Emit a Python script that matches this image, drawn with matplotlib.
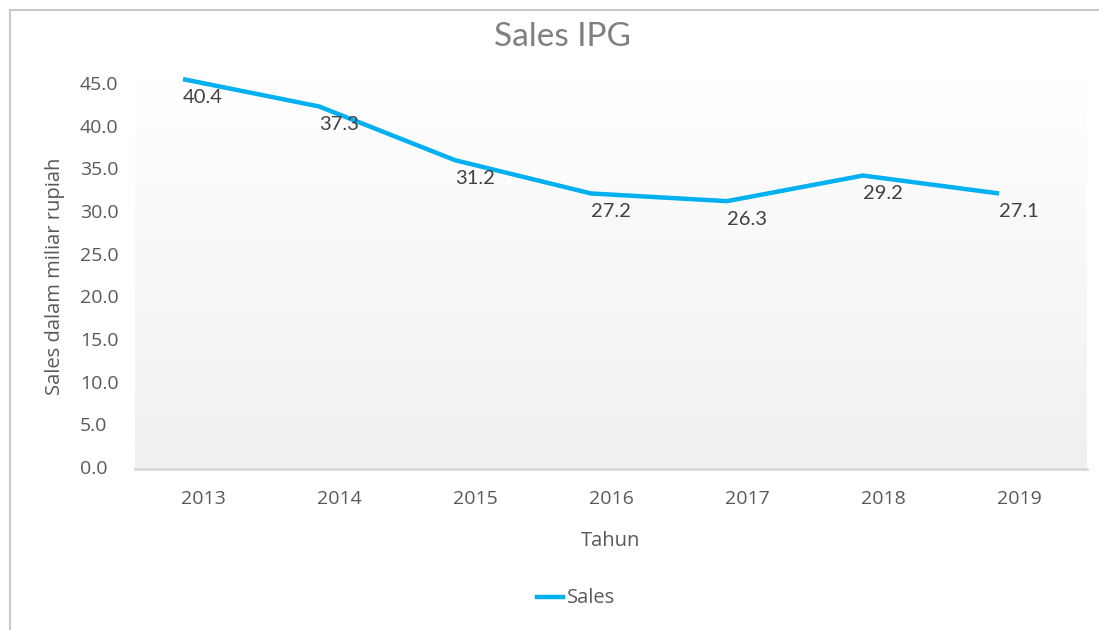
import numpy as np
import matplotlib
matplotlib.use("Agg")
import matplotlib.pyplot as plt
from matplotlib.lines import Line2D
from matplotlib.patches import Rectangle
from matplotlib.transforms import blended_transform_factory

plt.rcParams['font.family'] = ['Open Sans', 'DejaVu Sans']

years = ['2013', '2014', '2015', '2016', '2017', '2018', '2019']
line_values = [45.7, 42.5, 36.2, 32.3, 31.4, 34.4, 32.3]
data_labels = ['40.4', '37.3', '31.2', '27.2', '26.3', '29.2', '27.1']
y_ticks = [0, 5, 10, 15, 20, 25, 30, 35, 40, 45]

W, H = 1099, 630
fig = plt.figure(figsize=(W / 100, H / 100), dpi=100)
fig.patch.set_facecolor('white')

fig.add_artist(Rectangle((10 / W, -0.1), 1.2, (H - 10) / H + 0.1, transform=fig.transFigure,
                         fill=False, edgecolor='#c8c8c8', linewidth=1.5))

left, right, top, bottom = 135, 1087, 80, 469
ax = fig.add_axes([left / W, 1 - bottom / H, (right - left) / W, (bottom - top) / H])

x = np.arange(len(years))
ax.set_xlim(-0.5, len(years) - 0.5)
ax.set_ylim(0, 45.6)

grad = np.linspace(1.0, 0.0, 256).reshape(-1, 1)
c_top = np.array([1.0, 1.0, 1.0])
c_bot = np.array([0xf0, 0xf0, 0xf0]) / 255
img = (c_bot + (c_top - c_bot) * grad[..., None]).reshape(256, 1, 3)
ax.imshow(img, extent=[0, 1, 0, 1], transform=ax.transAxes, aspect='auto', zorder=0)

for s in ['top', 'right', 'left']:
    ax.spines[s].set_visible(False)
ax.spines['bottom'].set_color('#d9d9d9')
ax.spines['bottom'].set_linewidth(2)

x_shift = -0.147
ax.plot(x + x_shift, line_values, color='#00B0F0', linewidth=3.2, solid_joinstyle='round',
        solid_capstyle='butt', clip_on=False, zorder=3)

for xi, yv, lab in zip(x, line_values, data_labels):
    ax.annotate(lab, (xi, yv), xytext=(0, -13), textcoords='offset points',
                ha='center', va='center', fontsize=14.5, color='#404040', zorder=4,
                family=['Lato', 'DejaVu Sans'], annotation_clip=False)

ax.set_xticks(x)
ax.set_xticklabels(years)
ax.set_yticks(y_ticks)
ax.set_yticklabels([])
ax.tick_params(axis='both', length=0, labelsize=14, labelcolor='#595959')
ax.tick_params(axis='x', pad=15)

ytrans = blended_transform_factory(fig.transFigure, ax.transData)
for v in y_ticks:
    fig.text(80 / W, v, f'{v:.1f}', transform=ytrans, ha='left', va='center',
             fontsize=14, color='#595959')

fig.text(562 / W, 1 - 37 / H, 'Sales IPG', ha='center', va='center', fontsize=24,
         color='#7f7f7f', family=['Lato', 'DejaVu Sans'])
fig.text(611 / W, 1 - 541 / H, 'Tahun', ha='center', va='center', fontsize=14.5, color='#595959')
fig.text(55 / W, 1 - 276 / H, 'Sales dalam miliar rupiah', ha='center', va='center',
         rotation=90, fontsize=14.5, color='#595959')

fig.add_artist(Line2D([537 / W, 563 / W], [1 - 597 / H, 1 - 597 / H], color='#00B0F0',
                      linewidth=3.2, transform=fig.transFigure))
fig.text(567 / W, 1 - 598 / H, 'Sales', ha='left', va='center', fontsize=14.5, color='#595959')

fig.savefig('out.png', dpi=100, facecolor='white')
